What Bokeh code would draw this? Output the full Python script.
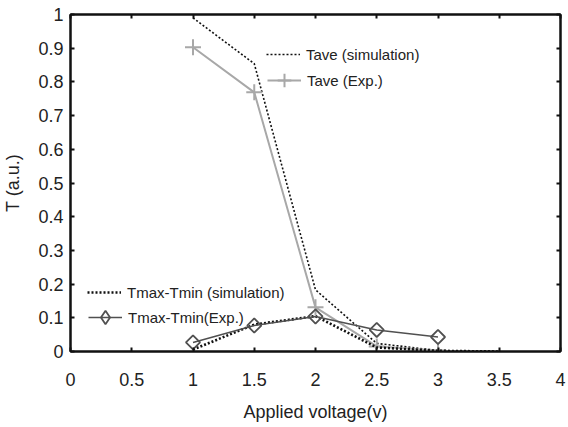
import math
from bokeh.plotting import figure
from bokeh.models import (Range1d, LinearAxis, FixedTicker, CustomJSTickFormatter,
                          Legend, LegendItem, ColumnDataSource)
from bokeh.embed import file_html
from bokeh.resources import INLINE

# ---- data ----
voltage_sim = [1.0, 1.5, 2.0, 2.5, 3.0, 3.5]
tave_sim = [0.99, 0.854, 0.183, 0.024, 0.003, 0.0]
tdiff_sim = [0.006, 0.08, 0.105, 0.012, 0.002, 0.0]

voltage_exp = [1.0, 1.5, 2.0, 2.5, 3.0]
tave_exp = [0.903, 0.769, 0.131, 0.015, 0.003]
tdiff_exp = [0.027, 0.077, 0.104, 0.064, 0.043]

x_ticks = [0, 0.5, 1, 1.5, 2, 2.5, 3, 3.5, 4]
y_ticks = [0, 0.1, 0.2, 0.3, 0.4, 0.5, 0.6, 0.7, 0.8, 0.9, 1.0]

FONT = "Liberation Sans"

p = figure(width=568, height=427, output_backend="svg", toolbar_location=None,
           x_range=Range1d(0, 4), y_range=Range1d(0, 1),
           min_border_left=69, min_border_right=8, min_border_top=14, min_border_bottom=76,
           x_axis_label="Applied voltage(v)", y_axis_label="T (a.u.)")
p.grid.visible = False
p.background_fill_color = "white"
p.border_fill_color = "white"
p.outline_line_color = "#111111"
p.outline_line_width = 2

fmt = CustomJSTickFormatter(code="return String(Number(tick.toFixed(2)));")
blank = CustomJSTickFormatter(code="return '';")

for ax, ticks in ((p.xaxis[0], x_ticks), (p.yaxis[0], y_ticks)):
    ax.ticker = FixedTicker(ticks=ticks)
    ax.formatter = fmt
    ax.major_tick_in = 4
    ax.major_tick_out = 0
    ax.minor_tick_line_color = None
    ax.axis_line_width = 2
    ax.axis_line_color = "#111111"
    ax.major_tick_line_width = 2
    ax.major_tick_line_color = "#111111"
    ax.major_label_text_font = FONT
    ax.major_label_text_font_size = "18px"
    ax.major_label_text_color = "#222222"
    ax.axis_label_text_font = FONT
    ax.axis_label_text_font_size = "18px"
    ax.axis_label_text_font_style = "normal"
    ax.axis_label_text_color = "#222222"

p.xaxis[0].major_label_standoff = 21
p.xaxis[0].axis_label_standoff = 13
p.yaxis[0].major_label_standoff = 7
p.yaxis[0].axis_label_standoff = 12

for loc, ticks in (("above", x_ticks), ("right", y_ticks)):
    ax = LinearAxis(ticker=FixedTicker(ticks=ticks), formatter=blank)
    ax.major_tick_in = 4
    ax.major_tick_out = 0
    ax.minor_tick_line_color = None
    ax.axis_line_width = 2
    ax.axis_line_color = "#111111"
    ax.major_tick_line_width = 2
    ax.major_tick_line_color = "#111111"
    ax.major_label_text_font_size = "1px"
    ax.major_label_standoff = 0
    p.add_layout(ax, loc)

src_sim = ColumnDataSource(dict(x=voltage_sim, tave=tave_sim, tdiff=tdiff_sim))
src_exp = ColumnDataSource(dict(x=voltage_exp, tave=tave_exp, tdiff=tdiff_exp))

r_tave_sim = p.line("x", "tave", source=src_sim, line_color="#111111",
                    line_width=1.6, line_dash="2 2")
r_tave_exp = p.line("x", "tave", source=src_exp, line_color="#a8a8a8", line_width=2)
r_tave_exp_m = p.scatter("x", "tave", source=src_exp, marker="cross", size=16,
                         line_color="#a8a8a8", line_width=2)
r_tdiff_sim = p.line("x", "tdiff", source=src_sim, line_color="#111111",
                     line_width=2.6, line_dash="2 2")
r_tdiff_exp = p.line("x", "tdiff", source=src_exp, line_color="#505050", line_width=1.6)
r_tdiff_exp_m = p.scatter("x", "tdiff", source=src_exp, marker="square", size=10,
                          angle=math.pi / 4, fill_color=None,
                          line_color="#505050", line_width=1.8)
# legend-only diamond symbol (legend glyphs ignore marker rotation)
r_tdiff_leg = p.scatter("x", "tdiff", source=src_exp, marker="diamond", size=10,
                        fill_color=None, line_color="#505050", line_width=1.8,
                        visible=False)

def add_legend(label, renderers, loc):
    lg = Legend(items=[LegendItem(label=label, renderers=renderers)],
                location=loc, padding=0, margin=0, spacing=0,
                glyph_width=34, glyph_height=34, label_height=20, label_standoff=6,
                border_line_alpha=0, background_fill_alpha=0,
                label_text_font=FONT, label_text_font_size="15px",
                label_text_color="#222222")
    p.add_layout(lg, "center")

add_legend("Tave (simulation)", [r_tave_sim], (196, 280))
add_legend("Tave (Exp.)", [r_tave_exp, r_tave_exp_m], (197, 254))
add_legend("Tmax-Tmin (simulation)", [r_tdiff_sim], (17, 42))
add_legend("Tmax-Tmin(Exp.)", [r_tdiff_exp, r_tdiff_leg], (18, 17))

open("out.html", "w").write(file_html(p, INLINE))
